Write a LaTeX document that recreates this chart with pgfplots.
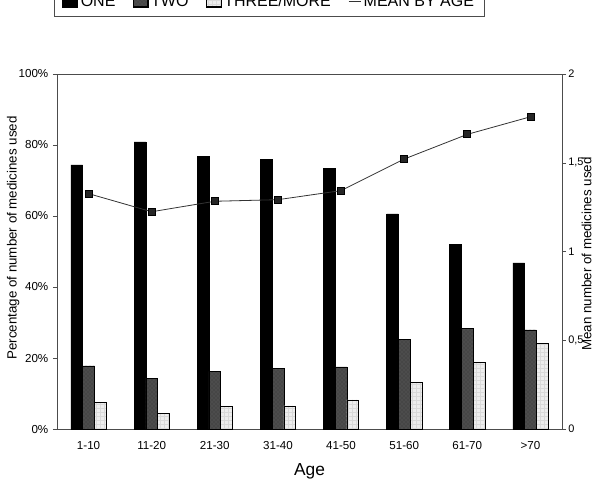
\documentclass[border=0pt]{standalone}
\usepackage{pgfplots}
\pgfplotsset{compat=1.18}
\usepackage{fontspec}
\setmainfont{Liberation Sans}
\usetikzlibrary{patterns}

\definecolor{mid}{gray}{0.30}
\definecolor{pale}{gray}{0.93}

% share of medicines used, by age group (%)
\pgfplotstableread{
x one  two  three
0 74.4 17.8 7.5
1 80.9 14.3 4.4
2 76.8 16.2 6.3
3 75.9 17.1 6.5
4 73.4 17.5 8.2
5 60.6 25.3 13.2
6 51.9 28.4 18.8
7 46.8 27.9 24.1
}\shares

% mean number of medicines used, by age group
\pgfplotstableread{
x mean
0 1.326
1 1.224
2 1.283
3 1.292
4 1.343
5 1.521
6 1.660
7 1.759
}\means

\begin{document}
\begin{tikzpicture}
\useasboundingbox (-42.75pt,-38.25pt) rectangle (401.25pt,321.75pt);
\clip (-42.75pt,-38.25pt) rectangle (401.25pt,321.75pt);
\begin{axis}[
  scale only axis,
  width=378.75pt, height=266.25pt,
  at={(0pt,0pt)}, anchor=south west,
  xmin=-0.5, xmax=7.5,
  ymin=0, ymax=100,
  ybar=0pt, bar width=8.8pt,
  xtick=data,
  xticklabels={1-10,11-20,21-30,31-40,41-50,51-60,61-70,>70},
  xtick style={draw=none},
  xticklabel style={yshift=-3pt},
  ytick={0,20,...,100},
  yticklabel={\pgfmathprintnumber{\tick}\%},
  ytick pos=left,
  tick align=outside,
  major tick length=3pt,
  axis line style={draw=black!70, line width=0.5pt},
  tick style={black!70},
  ticklabel style={font=\fontsize{8.7}{10}\selectfont},
  /pgf/number format/assume math mode=true,
  xlabel={Age},
  xlabel style={font=\fontsize{13}{15}\selectfont, at={(axis description cs:0.5,-0.118)}, anchor=center},
  ylabel={Percentage of number of medicines used},
  ylabel style={font=\fontsize{10}{12}\selectfont, at={(axis description cs:-0.087,0.538)}, anchor=center},
  legend columns=-1,
  legend style={at={(0.4208,1.1606)}, anchor=south, draw=black!70,
    line width=0.8pt, font=\fontsize{12}{14}\selectfont,
    /tikz/every even column/.append style={column sep=11pt},
    inner xsep=6pt, inner ysep=4pt},
  legend image code/.code={\draw[#1, draw=black] (0pt,-4pt) rectangle (11pt,4pt);},
]
\addplot[fill=black, draw=black] table[x=x, y=one] {\shares};
\addlegendentry{ONE}
\addplot[fill=mid, draw=black, postaction={pattern=crosshatch dots, pattern color=black!80}] table[x=x, y=two] {\shares};
\addlegendentry{TWO}
\addplot[fill=pale, draw=black, postaction={pattern=grid, pattern color=black!15}] table[x=x, y=three] {\shares};
\addlegendentry{THREE/MORE}
\addlegendimage{legend image code/.code={\draw[black!80, line width=0.6pt] (0pt,0pt) -- (9pt,0pt);}}
\addlegendentry{MEAN BY AGE}
\end{axis}

\begin{axis}[
  scale only axis,
  width=378.75pt, height=266.25pt,
  at={(0pt,0pt)}, anchor=south west,
  xmin=-0.5, xmax=7.5,
  ymin=0, ymax=2,
  axis x line=none,
  axis y line*=right,
  ytick={0,0.5,1,1.5,2},
  yticklabels={0,{0,5},1,{1,5},2},
  tick align=outside,
  major tick length=3pt,
  axis line style={draw=black!70, line width=0.5pt},
  tick style={black!70},
  ticklabel style={font=\fontsize{8.2}{10}\selectfont, inner xsep=1.5pt},
  ylabel={Mean number of medicines used},
  ylabel style={font=\fontsize{10}{12}\selectfont, at={(axis description cs:1.0485,0.493)}, anchor=center},
]
\addplot[black!80, line width=0.6pt, mark=square*, mark size=2.6pt,
  mark options={fill=black!85, draw=black}] table[x=x, y=mean] {\means};
\end{axis}
\end{tikzpicture}
\end{document}
